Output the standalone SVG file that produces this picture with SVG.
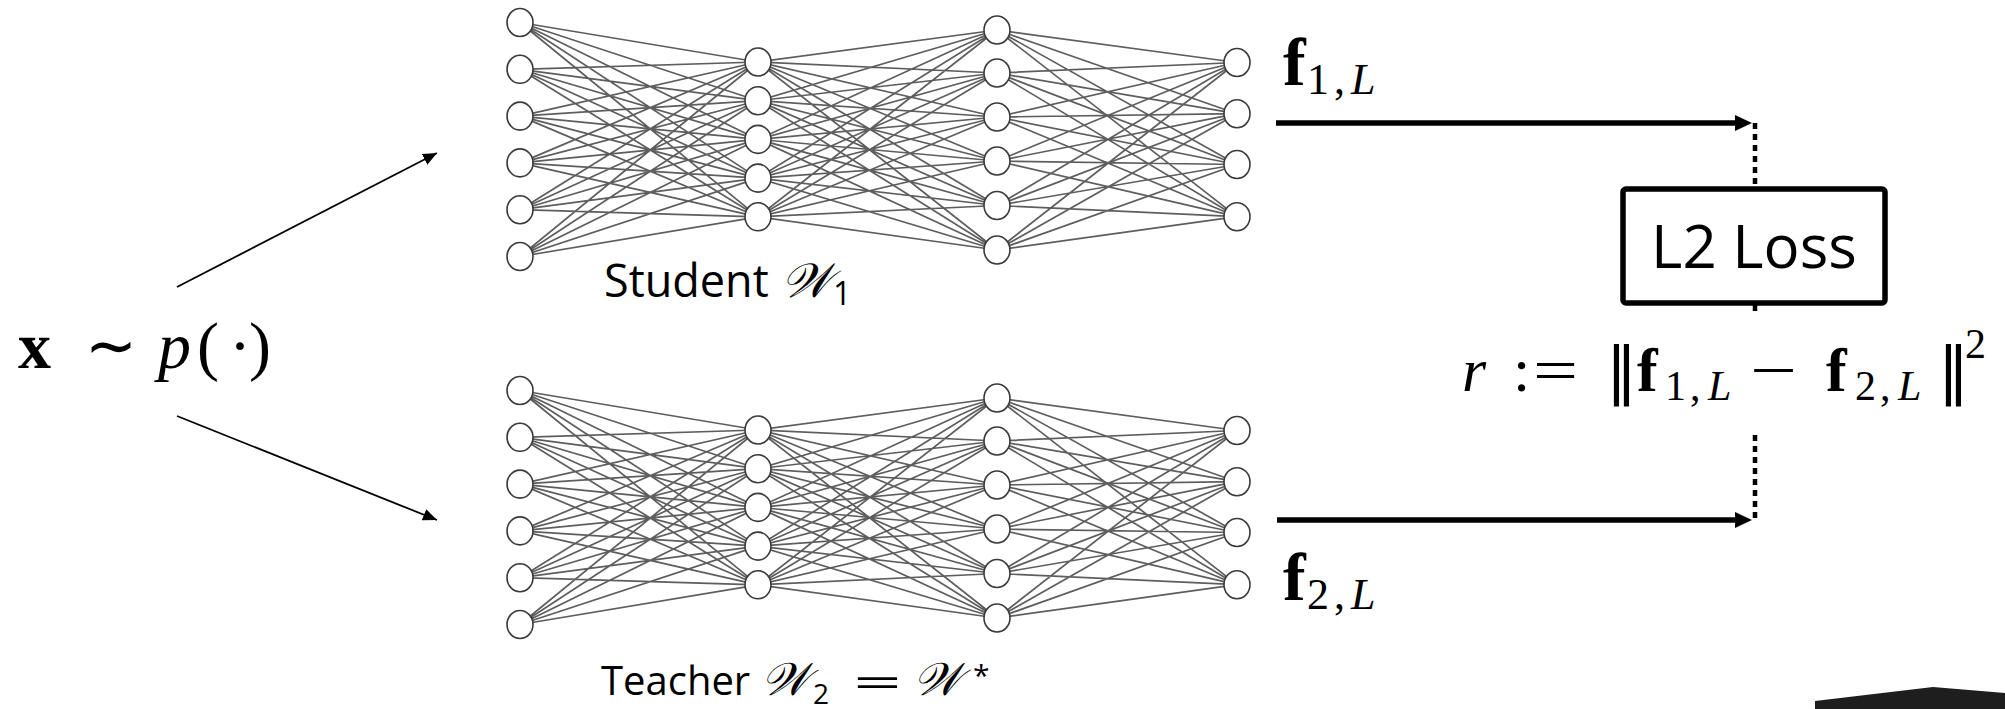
<svg xmlns="http://www.w3.org/2000/svg" xmlns:xlink="http://www.w3.org/1999/xlink" width="2005" height="709" viewBox="0 0 2005 709">
<style>
.edge{fill:none;stroke:#5e5e5e;stroke-width:1.7}
.neuron{fill:#fff;stroke:#3a3a3a;stroke-width:1.6}
.lbl{font-family:"Open Sans","Liberation Sans",sans-serif;fill:#000}
.math{font-family:"Liberation Serif","DejaVu Serif",serif;fill:#000}
.sym{font-family:"DejaVu Sans","Liberation Sans",sans-serif;fill:#000}
.scr{font-family:"Liberation Serif","DejaVu Serif",serif;font-style:italic;fill:#000}
.thin{stroke:#000;stroke-width:1.8;fill:none}
.thick{stroke:#000;stroke-width:5.5;fill:none}
.dot{stroke:#000;stroke-width:4.5;stroke-dasharray:6 5;fill:none}
</style>
<defs>
<marker id="ah-thin" markerUnits="userSpaceOnUse" markerWidth="16" markerHeight="14" refX="14" refY="6" orient="auto"><path d="M0,0L14,6L0,12z" fill="#000"/></marker>
<marker id="ah-thick" markerUnits="userSpaceOnUse" markerWidth="20" markerHeight="18" refX="0" refY="8" orient="auto"><path d="M0,0L17,8L0,16z" fill="#000"/></marker>
<g id="edges">
<path class="edge" d="M520 22.5L758 62M520 22.5L758 100.7M520 22.5L758 139.4M520 22.5L758 178.1M520 22.5L758 216.8M520 69.3L758 62M520 69.3L758 100.7M520 69.3L758 139.4M520 69.3L758 178.1M520 69.3L758 216.8M520 116.1L758 62M520 116.1L758 100.7M520 116.1L758 139.4M520 116.1L758 178.1M520 116.1L758 216.8M520 162.9L758 62M520 162.9L758 100.7M520 162.9L758 139.4M520 162.9L758 178.1M520 162.9L758 216.8M520 209.7L758 62M520 209.7L758 100.7M520 209.7L758 139.4M520 209.7L758 178.1M520 209.7L758 216.8M520 256.5L758 62M520 256.5L758 100.7M520 256.5L758 139.4M520 256.5L758 178.1M520 256.5L758 216.8"/>
<path class="edge" d="M758 62L997 30M758 62L997 73M758 62L997 117M758 62L997 161M758 62L997 205.5M758 62L997 250M758 100.7L997 30M758 100.7L997 73M758 100.7L997 117M758 100.7L997 161M758 100.7L997 205.5M758 100.7L997 250M758 139.4L997 30M758 139.4L997 73M758 139.4L997 117M758 139.4L997 161M758 139.4L997 205.5M758 139.4L997 250M758 178.1L997 30M758 178.1L997 73M758 178.1L997 117M758 178.1L997 161M758 178.1L997 205.5M758 178.1L997 250M758 216.8L997 30M758 216.8L997 73M758 216.8L997 117M758 216.8L997 161M758 216.8L997 205.5M758 216.8L997 250"/>
<path class="edge" d="M997 30L1237 62.5M997 30L1237 113.7M997 30L1237 164.5M997 30L1237 216.7M997 73L1237 62.5M997 73L1237 113.7M997 73L1237 164.5M997 73L1237 216.7M997 117L1237 62.5M997 117L1237 113.7M997 117L1237 164.5M997 117L1237 216.7M997 161L1237 62.5M997 161L1237 113.7M997 161L1237 164.5M997 161L1237 216.7M997 205.5L1237 62.5M997 205.5L1237 113.7M997 205.5L1237 164.5M997 205.5L1237 216.7M997 250L1237 62.5M997 250L1237 113.7M997 250L1237 164.5M997 250L1237 216.7"/>
</g>
<g id="neurons">
<ellipse class="neuron" cx="520" cy="22.5" rx="13" ry="14"/>
<ellipse class="neuron" cx="520" cy="69.3" rx="13" ry="14"/>
<ellipse class="neuron" cx="520" cy="116.1" rx="13" ry="14"/>
<ellipse class="neuron" cx="520" cy="162.9" rx="13" ry="14"/>
<ellipse class="neuron" cx="520" cy="209.7" rx="13" ry="14"/>
<ellipse class="neuron" cx="520" cy="256.5" rx="13" ry="14"/>
<ellipse class="neuron" cx="758" cy="62" rx="13" ry="14"/>
<ellipse class="neuron" cx="758" cy="100.7" rx="13" ry="14"/>
<ellipse class="neuron" cx="758" cy="139.4" rx="13" ry="14"/>
<ellipse class="neuron" cx="758" cy="178.1" rx="13" ry="14"/>
<ellipse class="neuron" cx="758" cy="216.8" rx="13" ry="14"/>
<ellipse class="neuron" cx="997" cy="30" rx="13" ry="14"/>
<ellipse class="neuron" cx="997" cy="73" rx="13" ry="14"/>
<ellipse class="neuron" cx="997" cy="117" rx="13" ry="14"/>
<ellipse class="neuron" cx="997" cy="161" rx="13" ry="14"/>
<ellipse class="neuron" cx="997" cy="205.5" rx="13" ry="14"/>
<ellipse class="neuron" cx="997" cy="250" rx="13" ry="14"/>
<ellipse class="neuron" cx="1237" cy="62.5" rx="13" ry="14"/>
<ellipse class="neuron" cx="1237" cy="113.7" rx="13" ry="14"/>
<ellipse class="neuron" cx="1237" cy="164.5" rx="13" ry="14"/>
<ellipse class="neuron" cx="1237" cy="216.7" rx="13" ry="14"/>
</g>
</defs>
<rect width="2005" height="709" fill="#fff"/>

<g id="student-net">
<use href="#edges"/>
<use href="#neurons"/>
<text class="lbl" x="604" y="297" font-size="45">Student</text>
<text class="scr" x="781" y="297" font-size="48">𝒲</text>
<text class="lbl" x="833" y="305" font-size="32">1</text>
</g>

<g id="teacher-net">
<use href="#edges" y="368"/>
<use href="#neurons" y="368"/>
<text class="lbl" x="601" y="695" font-size="40">Teacher</text>
<text class="scr" x="761" y="695" font-size="46">𝒲</text>
<text class="lbl" x="813" y="704" font-size="28">2</text>
<text class="lbl" x="853" y="697" font-size="40" textLength="49" lengthAdjust="spacingAndGlyphs">=</text>
<text class="scr" x="913" y="695" font-size="46">𝒲</text>
<text class="lbl" x="973" y="686" font-size="30">*</text>
</g>

<g id="input">
<text class="math" y="368" font-size="66"><tspan x="18" font-weight="bold">x</tspan></text>
<text class="sym" x="85" y="368" font-size="66" textLength="52" lengthAdjust="spacingAndGlyphs">∼</text>
<text class="math" y="368" font-size="66"><tspan x="158" font-style="italic">p</tspan><tspan x="197">(</tspan><tspan x="229">·</tspan><tspan x="249">)</tspan></text>
</g>

<g id="f1L">
<text class="math" y="85" font-size="68"><tspan x="1283" font-weight="bold">f</tspan></text>
<text class="math" y="94" font-size="44"><tspan x="1307">1</tspan><tspan x="1334">,</tspan><tspan x="1351" font-style="italic">L</tspan></text>
</g>

<g id="f2L">
<text class="math" y="600" font-size="68"><tspan x="1283" font-weight="bold">f</tspan></text>
<text class="math" y="609" font-size="44"><tspan x="1307">2</tspan><tspan x="1334">,</tspan><tspan x="1351" font-style="italic">L</tspan></text>
</g>

<g id="l2-loss">
<rect x="1623" y="189" width="262" height="114" rx="3" fill="#fff" stroke="#000" stroke-width="5.5"/>
<text class="lbl" x="1754" y="268" font-size="60" text-anchor="middle">L2 Loss</text>
</g>

<g id="residual">
<text class="math" y="391" font-size="62"><tspan x="1462" font-style="italic">r</tspan><tspan x="1513">:</tspan><tspan x="1637" font-weight="bold">f</tspan><tspan x="1826" font-weight="bold">f</tspan></text>
<text class="sym" x="1606" y="391" font-size="62">‖</text>
<text class="sym" x="1938" y="391" font-size="62">‖</text>
<text class="math" x="1533" y="391" font-size="62" textLength="45" lengthAdjust="spacingAndGlyphs">=</text>
<text class="math" x="1750" y="391" font-size="62" textLength="47" lengthAdjust="spacingAndGlyphs">−</text>
<text class="math" y="400" font-size="42"><tspan x="1665">1</tspan><tspan x="1690">,</tspan><tspan x="1708" font-style="italic">L</tspan><tspan x="1855">2</tspan><tspan x="1880">,</tspan><tspan x="1898" font-style="italic">L</tspan></text>
<text class="math" x="1965" y="358" font-size="42">2</text>
</g>

<g id="connectors">
<line class="thin" x1="177" y1="287" x2="437" y2="153" marker-end="url(#ah-thin)"/>
<line class="thin" x1="177" y1="416" x2="437" y2="520" marker-end="url(#ah-thin)"/>
<line class="thick" x1="1276" y1="123" x2="1735" y2="123" marker-end="url(#ah-thick)"/>
<line class="thick" x1="1277" y1="520" x2="1735" y2="520" marker-end="url(#ah-thick)"/>
<path class="dot" d="M1755 123V187M1755 305V316M1755 435V521"/>
</g>

<polygon points="1815,709 1815,701 1933,687 2005,693 2005,709" fill="#1e1e1e"/>
</svg>
